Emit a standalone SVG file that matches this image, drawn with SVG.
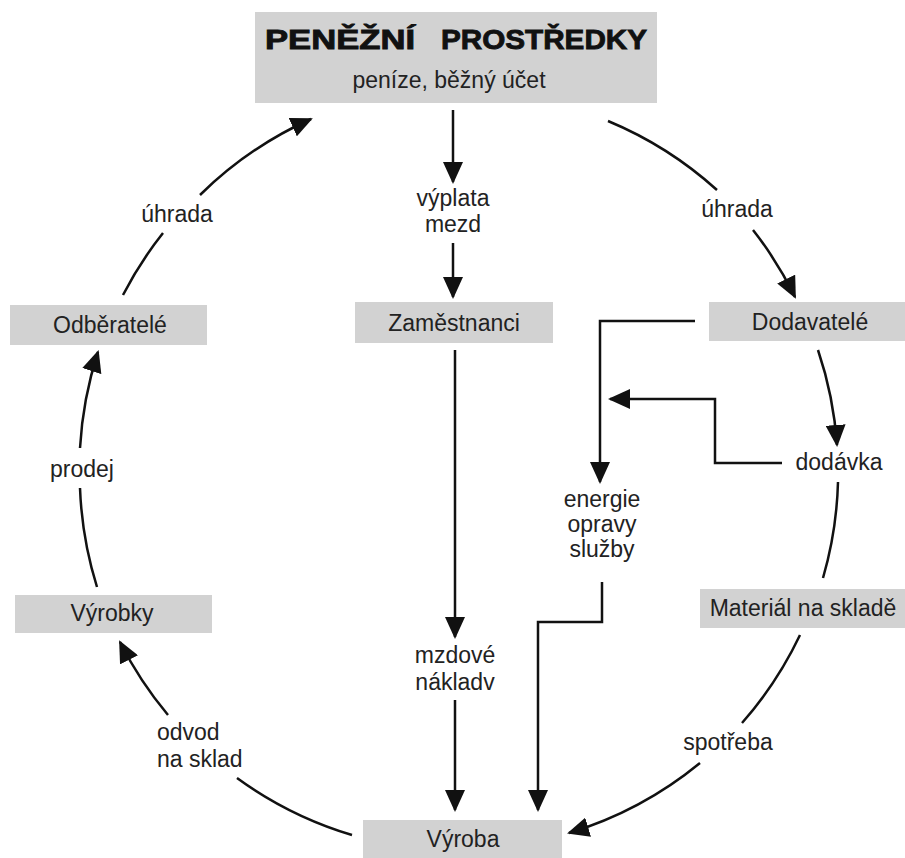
<svg xmlns="http://www.w3.org/2000/svg" width="905" height="858" viewBox="0 0 905 858">
<style>
.box{fill:#d2d2d2;}
.t{font-family:"Liberation Sans",Arial,sans-serif;font-size:23px;fill:#222;text-anchor:middle;}
.l{text-anchor:start;}
.h{font-family:"Liberation Sans",Arial,sans-serif;font-size:28px;font-weight:bold;fill:#111;stroke:#111;stroke-width:0.9;}
.c{fill:none;stroke:#111;stroke-width:2.5;}
.a{marker-end:url(#ah);}
</style>
<defs>
<marker id="ah" viewBox="0 0 22 20" markerWidth="22" markerHeight="20" refX="20" refY="10" orient="auto" markerUnits="userSpaceOnUse">
<path d="M0,0 L22,10 L0,20 z" fill="#111"/>
</marker>
</defs>
<rect width="905" height="858" fill="#fff"/>

<g id="penezni-prostredky">
<rect class="box" x="255" y="12" width="402" height="91"/>
<text class="h" x="265" y="49" textLength="150" lengthAdjust="spacingAndGlyphs">PENĚŽNÍ</text>
<text class="h" x="441" y="49" textLength="206" lengthAdjust="spacingAndGlyphs">PROSTŘEDKY</text>
<text class="t" x="449" y="88">peníze, běžný účet</text>
</g>
<g id="odberatele">
<rect class="box" x="10" y="305" width="197" height="40"/>
<text class="t" x="110" y="333">Odběratelé</text>
</g>
<g id="zamestnanci">
<rect class="box" x="355" y="302" width="198" height="41"/>
<text class="t" x="454" y="331">Zaměstnanci</text>
</g>
<g id="dodavatele">
<rect class="box" x="709" y="302" width="196" height="39"/>
<text class="t" x="810" y="330">Dodavatelé</text>
</g>
<g id="material">
<rect class="box" x="700" y="589" width="205" height="39"/>
<text class="t" x="803" y="616">Materiál na skladě</text>
</g>
<g id="vyrobky">
<rect class="box" x="15" y="595" width="197" height="38"/>
<text class="t" x="112" y="621">Výrobky</text>
</g>
<g id="vyroba">
<rect class="box" x="363" y="820" width="199" height="38"/>
<text class="t" x="463" y="847">Výroba</text>
</g>

<g id="labels">
<text class="t" x="177" y="222">úhrada</text>
<text class="t" x="737" y="217">úhrada</text>
<text class="t" x="453" y="206">výplata</text>
<text class="t" x="453" y="232">mezd</text>
<text class="t" x="82" y="477">prodej</text>
<text class="t l" x="157" y="740">odvod</text>
<text class="t l" x="157" y="767">na sklad</text>
<text class="t" x="455" y="663">mzdové</text>
<text class="t" x="455" y="690">nákladv</text>
<text class="t" x="602" y="507">energie</text>
<text class="t" x="602" y="532">opravy</text>
<text class="t" x="602" y="557">služby</text>
<text class="t" x="839" y="470">dodávka</text>
<text class="t" x="728" y="750">spotřeba</text>
</g>

<g id="connectors">
<path class="c" d="M123,295 A380,380 0 0 1 163,233"/>
<path class="c a" d="M200,195 A380,380 0 0 1 311,119"/>
<path class="c" d="M608,121 A380,380 0 0 1 717,190"/>
<path class="c a" d="M753,230 A380,380 0 0 1 795,297"/>
<path class="c a" d="M818,350 A380,380 0 0 1 837,445"/>
<path class="c" d="M838,482 A380,380 0 0 1 823,578"/>
<path class="c" d="M800,635 A380,380 0 0 1 742,723"/>
<path class="c a" d="M700,763 A380,380 0 0 1 569,833"/>
<path class="c" d="M352,835 A380,380 0 0 1 237,778"/>
<path class="c a" d="M168,715 A380,380 0 0 1 120,642"/>
<path class="c" d="M97,587 A380,380 0 0 1 80,488"/>
<path class="c a" d="M80,448 A380,380 0 0 1 98,352"/>
<path class="c a" d="M453,110 V182"/>
<path class="c a" d="M453,243 V297"/>
<path class="c a" d="M455,350 V637"/>
<path class="c a" d="M455,700 V810"/>
<path class="c a" d="M695,321 H600 V482"/>
<path class="c a" d="M602,582 V622 H538 V810"/>
<path class="c a" d="M782,463 H715 V399 H610"/>
</g>
</svg>
